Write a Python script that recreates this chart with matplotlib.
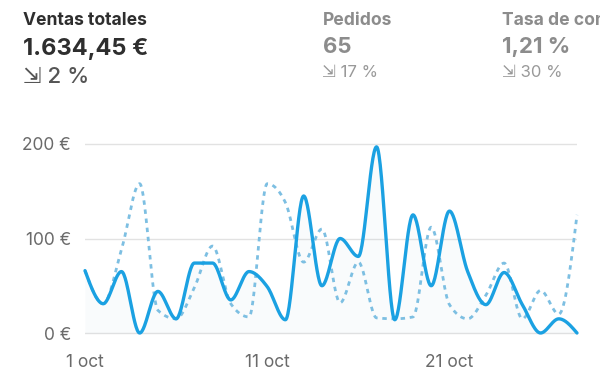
import numpy as np
import matplotlib
matplotlib.use('Agg')
import matplotlib.pyplot as plt

# ---- data ----
days = list(range(1, 29))
ventas = [66, 31, 65, 0, 44, 15, 74, 74, 35, 65, 49, 14, 145, 50, 100, 81,
          197, 14, 125, 50, 129, 65, 30, 64, 30, 0, 15, 0]
ventas_prev = [66, 31, 88, 158, 24, 15, 48, 92, 31, 17, 158, 138, 75, 110, 32, 75,
               16, 15, 17, 112, 30, 15, 40, 74, 15, 45, 20, 125]
xtick_days = [1, 11, 21]
xtick_labels = ['1 oct', '11 oct', '21 oct']
ytick_vals = [0, 100, 200]
ytick_labels = ['0 €', '100 €', '200 €']


def monotone_curve(x, y, n=30):
    x = np.asarray(x, float)
    y = np.asarray(y, float)
    N = len(x)
    h = np.diff(x)
    s = np.diff(y) / h
    t = np.zeros(N)
    for i in range(1, N - 1):
        h0, h1 = h[i - 1], h[i]
        s0, s1 = s[i - 1], s[i]
        p = (s0 * h1 + s1 * h0) / (h0 + h1)
        t[i] = (np.sign(s0) + np.sign(s1)) * min(abs(s0), abs(s1), 0.5 * abs(p))
    t[0] = (3 * s[0] - t[1]) / 2
    t[-1] = (3 * s[-1] - t[-2]) / 2
    xs, ys = [], []
    for i in range(N - 1):
        u = np.linspace(0, 1, n, endpoint=(i == N - 2))
        hh = h[i]
        h00 = 2 * u**3 - 3 * u**2 + 1
        h10 = u**3 - 2 * u**2 + u
        h01 = -2 * u**3 + 3 * u**2
        h11 = u**3 - u**2
        xs.append(x[i] + u * hh)
        ys.append(h00 * y[i] + h10 * hh * t[i] + h01 * y[i + 1] + h11 * hh * t[i + 1])
    return np.concatenate(xs), np.concatenate(ys)


plt.rcParams['font.family'] = ['Inter', 'DejaVu Sans']

W, H = 600, 392
fig = plt.figure(figsize=(W / 100, H / 100), dpi=100)

# axes placement in pixels
L, R, T, B = 85, 577, 130, 340
ax = fig.add_axes([L / W, 1 - B / H, (R - L) / W, (B - T) / H])

solid_c = '#1ba1e2'
dot_c = '#7dbfe2'

xp, yp = monotone_curve(days, ventas_prev)
xs, ys = monotone_curve(days, ventas)

ax.fill_between(xs, ys, 0, color='#5a8fb0', alpha=0.035, lw=0, zorder=1)
ax.plot(xp, yp, color=dot_c, lw=2.0, linestyle=(0, (1.6, 1.7)),
        solid_capstyle='butt', dash_capstyle='butt', clip_on=False, zorder=2)
ax.plot(xs, ys, color=solid_c, lw=2.4, clip_on=False, zorder=3,
        solid_joinstyle='round', solid_capstyle='round')

ax.set_xlim(1, 28)
ax.set_ylim((333 - B) / 0.945, (333 - T) / 0.945)
ax.set_yticks(ytick_vals)
ax.set_yticklabels(ytick_labels)
ax.set_xticks(xtick_days)
ax.set_xticklabels(xtick_labels)
ax.tick_params(axis='both', length=0, labelsize=12.5, labelcolor='#6a6a6a')
ax.tick_params(axis='y', pad=10)
ax.tick_params(axis='x', pad=10)
ax.yaxis.grid(True, color='#e2e2e2', lw=1.0)
ax.set_axisbelow(True)
for sp in ax.spines.values():
    sp.set_visible(False)


def ftext(x, y, s, **kw):
    fig.text(x / W, 1 - y / H, s, va='baseline', ha='left', **kw)


dark = '#2e2e2e'
gray = '#8c8c8c'
ftext(23, 25, 'Ventas totales', fontsize=12.6, fontweight='bold', color=dark)
ftext(23, 55, '1.634,45 €', fontsize=17, fontweight='bold', color=dark)
ftext(23, 83, '⇲ 2 %', fontsize=16, color='#555555', fontweight='medium')

ftext(322.5, 25, 'Pedidos', fontsize=12.6, fontweight='bold', color=gray)
ftext(322.5, 53, '65', fontsize=16, fontweight='bold', color=gray)
ftext(322.5, 77, '⇲ 17 %', fontsize=12, color='#999999')

ftext(502.5, 25, 'Tasa de conversión', fontsize=12.6, fontweight='bold', color=gray)
ftext(502.5, 53, '1,21 %', fontsize=16, fontweight='bold', color=gray)
ftext(502.5, 77, '⇲ 30 %', fontsize=12, color='#999999')

fig.savefig('out.png', dpi=100)
